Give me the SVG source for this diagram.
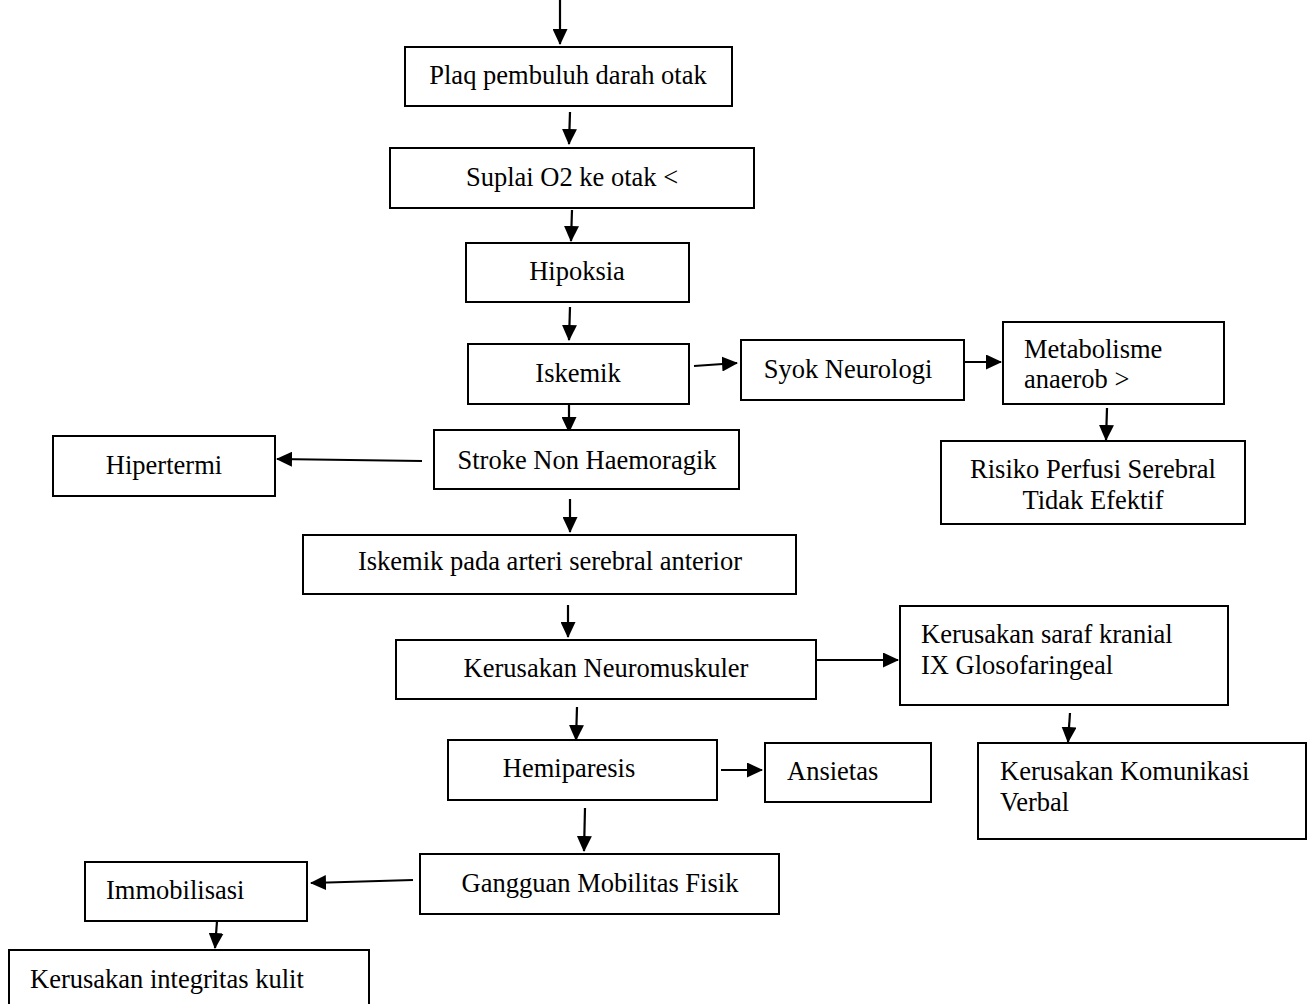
<svg xmlns="http://www.w3.org/2000/svg" width="1316" height="1004" viewBox="0 0 1316 1004">
<style>
.box{fill:#fff;stroke:#000;stroke-width:2}
.t{font-family:"Liberation Serif","Times New Roman",serif;font-size:26.5px;fill:#000}
.c{text-anchor:middle}
.edge{stroke:#000;stroke-width:2.2;fill:none;marker-end:url(#ah)}
</style>
<defs>
<marker id="ah" markerUnits="userSpaceOnUse" markerWidth="17" markerHeight="15" refX="15" refY="7.5" orient="auto">
<path d="M0,0 L16,7.5 L0,15 Z" fill="#000"/>
</marker>
</defs>
<rect width="1316" height="1004" fill="#fff"/>
<g id="connectors">
<line class="edge" x1="560" y1="0" x2="560" y2="44"/>
<line class="edge" x1="570" y1="112" x2="569" y2="144"/>
<line class="edge" x1="572" y1="210" x2="571" y2="241"/>
<line class="edge" x1="570" y1="307" x2="569" y2="340"/>
<line class="edge" x1="694" y1="366" x2="737" y2="363"/>
<line class="edge" x1="964" y1="362" x2="1001" y2="362"/>
<line class="edge" x1="1107" y1="408" x2="1106" y2="440"/>
<line class="edge" x1="569" y1="402" x2="569" y2="432"/>
<line class="edge" x1="422" y1="461" x2="277" y2="459"/>
<line class="edge" x1="570" y1="499" x2="570" y2="532"/>
<line class="edge" x1="568" y1="605" x2="568" y2="637"/>
<line class="edge" x1="815" y1="660" x2="898" y2="660"/>
<line class="edge" x1="1070" y1="713" x2="1068" y2="742"/>
<line class="edge" x1="577" y1="707" x2="576" y2="740"/>
<line class="edge" x1="721" y1="770" x2="762" y2="770"/>
<line class="edge" x1="585" y1="808" x2="584" y2="851"/>
<line class="edge" x1="413" y1="880" x2="311" y2="883"/>
<line class="edge" x1="217" y1="921" x2="215" y2="948"/>
</g>
<g id="plaq"><rect class="box" x="405" y="47" width="327" height="59"/><text class="t c" x="568" y="84">Plaq pembuluh darah otak</text></g>
<g id="suplai"><rect class="box" x="390" y="148" width="364" height="60"/><text class="t c" x="572" y="186">Suplai O2 ke otak &lt;</text></g>
<g id="hipoksia"><rect class="box" x="466" y="243" width="223" height="59"/><text class="t c" x="577" y="280">Hipoksia</text></g>
<g id="iskemik"><rect class="box" x="468" y="344" width="221" height="60"/><text class="t c" x="578" y="382">Iskemik</text></g>
<g id="syok"><rect class="box" x="741" y="340" width="223" height="60"/><text class="t c" x="848" y="378">Syok Neurologi</text></g>
<g id="metabolisme"><rect class="box" x="1003" y="322" width="221" height="82"/><text class="t" x="1024" y="358">Metabolisme</text><text class="t" x="1024" y="388">anaerob &gt;</text></g>
<g id="risiko"><rect class="box" x="941" y="441" width="304" height="83"/><text class="t c" x="1093" y="478">Risiko Perfusi Serebral</text><text class="t c" x="1093" y="509">Tidak Efektif</text></g>
<g id="hipertermi"><rect class="box" x="53" y="436" width="222" height="60"/><text class="t c" x="164" y="474">Hipertermi</text></g>
<g id="stroke"><rect class="box" x="434" y="430" width="305" height="59"/><text class="t c" x="587" y="469">Stroke Non Haemoragik</text></g>
<g id="iskemik-arteri"><rect class="box" x="303" y="535" width="493" height="59"/><text class="t c" x="550" y="570">Iskemik pada arteri serebral anterior</text></g>
<g id="neuromuskuler"><rect class="box" x="396" y="640" width="420" height="59"/><text class="t c" x="606" y="677">Kerusakan Neuromuskuler</text></g>
<g id="saraf-kranial"><rect class="box" x="900" y="606" width="328" height="99"/><text class="t" x="921" y="643">Kerusakan saraf kranial</text><text class="t" x="921" y="674">IX Glosofaringeal</text></g>
<g id="komunikasi"><rect class="box" x="978" y="743" width="328" height="96"/><text class="t" x="1000" y="780">Kerusakan Komunikasi</text><text class="t" x="1000" y="811">Verbal</text></g>
<g id="hemiparesis"><rect class="box" x="448" y="740" width="269" height="60"/><text class="t c" x="569" y="777">Hemiparesis</text></g>
<g id="ansietas"><rect class="box" x="765" y="743" width="166" height="59"/><text class="t" x="787" y="780">Ansietas</text></g>
<g id="gangguan"><rect class="box" x="420" y="854" width="359" height="60"/><text class="t c" x="600" y="892">Gangguan Mobilitas Fisik</text></g>
<g id="immobilisasi"><rect class="box" x="85" y="862" width="222" height="59"/><text class="t" x="106" y="899">Immobilisasi</text></g>
<g id="integritas"><rect class="box" x="9" y="950" width="360" height="70"/><text class="t" x="30" y="988">Kerusakan integritas kulit</text></g>
</svg>
